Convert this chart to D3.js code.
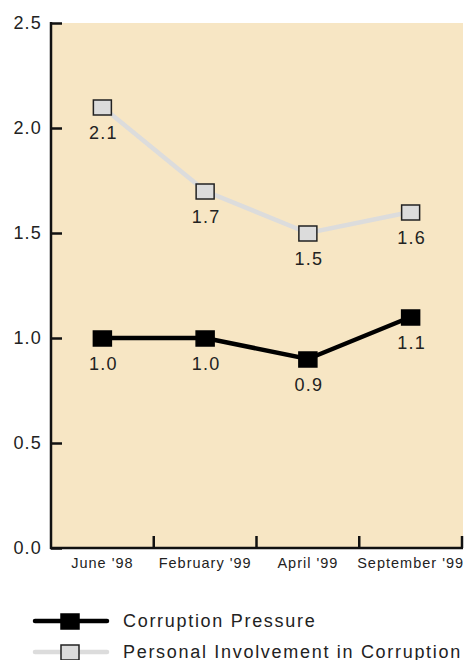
<!DOCTYPE html>
<html>
<head>
<meta charset="utf-8">
<script src="https://cdn.jsdelivr.net/npm/d3@7"></script>
<style>
  body { margin: 0; background: #fff; }
  svg { display: block; font-family: "Liberation Sans", Arial, sans-serif; }
</style>
</head>
<body>
<svg id="chart" width="467" height="660"></svg>
<script>
const periods = ["June '98", "February '99", "April '99", "September '99"];
const corruptionPressure = [1.0, 1.0, 0.9, 1.1];
const personalInvolvement = [2.1, 1.7, 1.5, 1.6];
const yTicks = [0, 0.5, 1.0, 1.5, 2.0, 2.5];
const seriesNames = ["Corruption Pressure", "Personal Involvement in Corruption"];

const svg = d3.select("#chart");
const plotLeft = 51, plotRight = 462, plotTop = 23, plotBottom = 548;
const textColor = "#222";

const x = d3.scaleBand().domain(periods).range([plotLeft, plotRight]).padding(0);
const y = d3.scaleLinear().domain([0, 2.5]).range([plotBottom, plotTop]);

// plot background
svg.append("rect")
  .attr("x", plotLeft).attr("y", plotTop)
  .attr("width", plotRight - plotLeft + 1).attr("height", plotBottom - plotTop)
  .attr("fill", "#f7e6c4");

// y axis with inward ticks
const yAxis = svg.append("g")
  .attr("transform", `translate(${plotLeft},0)`)
  .call(d3.axisLeft(y).tickValues(yTicks).tickFormat(d3.format(".1f")).tickSize(-11).tickPadding(9));
yAxis.select(".domain").attr("d", `M0,${plotTop - 1}V${plotBottom + 1}`).attr("stroke", "#111").attr("stroke-width", 2.5);
yAxis.selectAll(".tick line").attr("stroke", "#111").attr("stroke-width", 2.5);
yAxis.selectAll(".tick text").attr("font-size", 18).attr("fill", textColor)
  .attr("letter-spacing", 1.2)
  .attr("font-family", "Liberation Sans, Arial, sans-serif");

// x axis: boundary ticks pointing up, labels centred in bands
const xAxis = svg.append("g").attr("transform", `translate(0,${plotBottom})`);
xAxis.append("line").attr("x1", plotLeft - 1).attr("x2", plotRight + 1)
  .attr("stroke", "#111").attr("stroke-width", 2.5);
const bounds = periods.map(p => x(p) + x.bandwidth());
xAxis.selectAll("line.bt").data(bounds).join("line")
  .attr("class", "bt")
  .attr("x1", d => d).attr("x2", d => d).attr("y1", 0).attr("y2", -12)
  .attr("stroke", "#111").attr("stroke-width", 2.5);
xAxis.selectAll("text").data(periods).join("text")
  .attr("x", d => x(d) + x.bandwidth() / 2).attr("y", 20)
  .attr("text-anchor", "middle").attr("font-size", 14.5).attr("fill", textColor)
  .attr("letter-spacing", 1.0)
  .text(d => d);

const cx = (d, i) => x(periods[i]) + x.bandwidth() / 2;
const line = d3.line().x(cx).y(d => y(d));

function drawSeries(values, stroke, fill, markerStroke) {
  svg.append("path").datum(values).attr("d", line)
    .attr("fill", "none").attr("stroke", stroke).attr("stroke-width", 4.5);
  svg.selectAll(null).data(values).join("rect")
    .attr("x", (d, i) => cx(d, i) - 9).attr("y", d => y(d) - 7)
    .attr("width", 18).attr("height", 15)
    .attr("fill", fill).attr("stroke", markerStroke).attr("stroke-width", 1.5);
  svg.selectAll(null).data(values).join("text")
    .attr("x", (d, i) => cx(d, i) + 1).attr("y", d => y(d) + 32)
    .attr("text-anchor", "middle").attr("font-size", 18).attr("fill", textColor)
    .attr("letter-spacing", 1.2)
    .text(d => d3.format(".1f")(d));
}

drawSeries(personalInvolvement, "#dcdcdc", "#dcdcdc", "#222");
drawSeries(corruptionPressure, "#000", "#000", "#000");

// legend
const legend = svg.append("g");
const items = [
  { name: seriesNames[0], stroke: "#000", fill: "#000", ms: "#000", y: 621 },
  { name: seriesNames[1], stroke: "#dcdcdc", fill: "#dcdcdc", ms: "#222", y: 652 }
];
items.forEach(it => {
  legend.append("line").attr("x1", 35).attr("x2", 107).attr("y1", it.y).attr("y2", it.y)
    .attr("stroke", it.stroke).attr("stroke-width", 4.5).attr("stroke-linecap", "round");
  legend.append("rect").attr("x", 61).attr("y", it.y - 7).attr("width", 18).attr("height", 15)
    .attr("fill", it.fill).attr("stroke", it.ms).attr("stroke-width", 1.5);
  legend.append("text").attr("x", 123).attr("y", it.y + 6)
    .attr("font-size", 18).attr("fill", textColor).attr("letter-spacing", 1.7)
    .text(it.name);
});
</script>
</body>
</html>
